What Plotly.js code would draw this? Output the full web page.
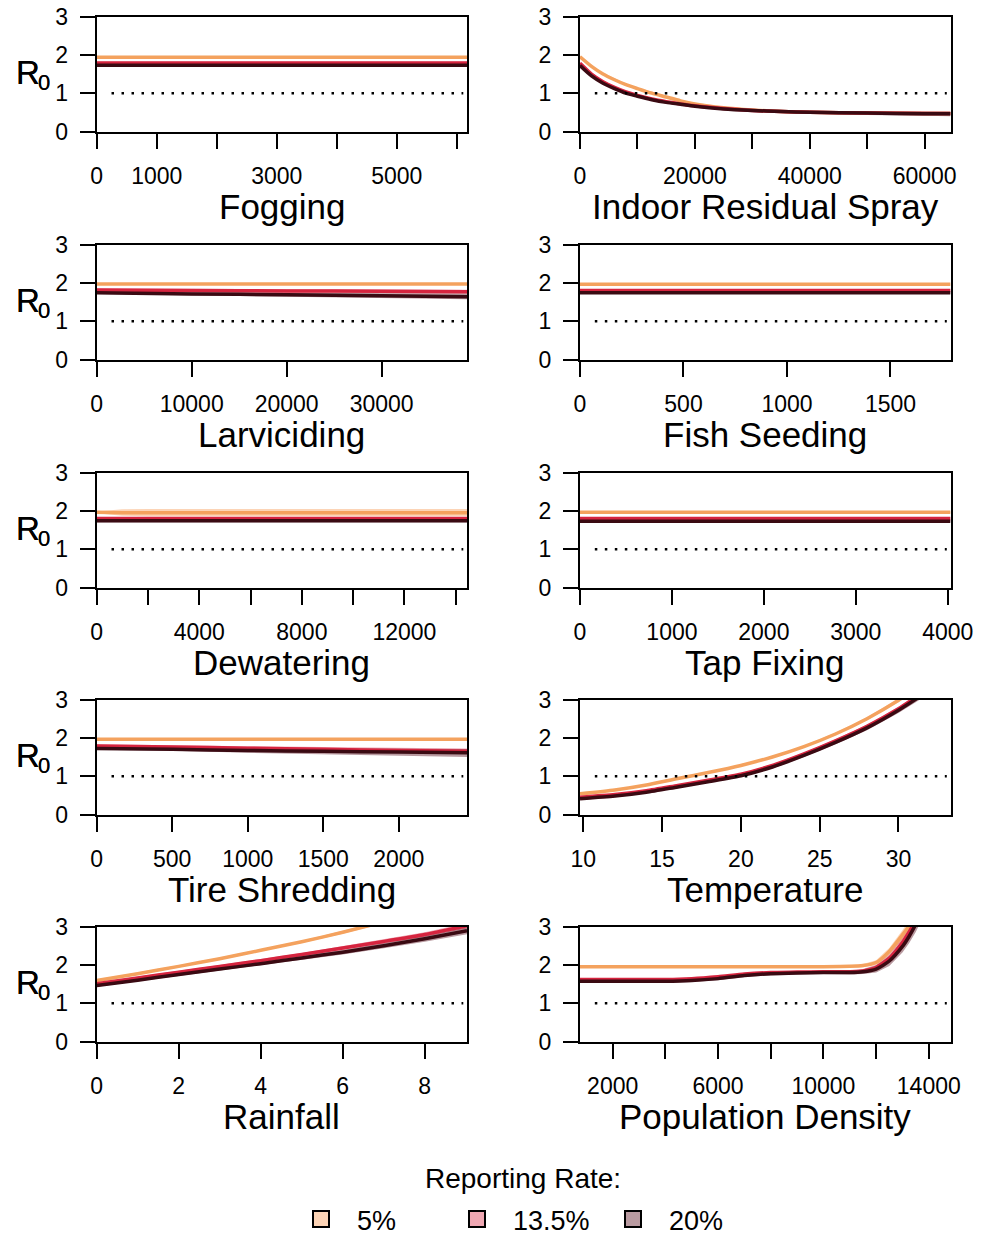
<!DOCTYPE html>
<html><head><meta charset="utf-8">
<script src="https://cdn.plot.ly/plotly-3.0.1.min.js"></script>
<style>html,body{margin:0;padding:0;background:#fff}#chart{width:988px;height:1237px}</style>
</head><body><div id="chart"></div>
<script>
// ---------- series / legend ----------
const seriesNames = ['5%', '13.5%', '20%'];
const legendTitle = 'Reporting Rate:';
const threshold = 1;
const yTickVals = [0, 1, 2, 3];

// ---------- Fogging ----------
const foggingX = [0, 1500, 3000, 4500, 6170];
const fogging5 = [1.94, 1.94, 1.94, 1.94, 1.94];
const fogging5Lo = [1.92, 1.92, 1.92, 1.92, 1.92];
const fogging5Hi = [1.96, 1.96, 1.96, 1.96, 1.96];
const fogging135 = [1.79, 1.79, 1.79, 1.79, 1.79];
const fogging135Lo = [1.76, 1.76, 1.76, 1.76, 1.76];
const fogging135Hi = [1.82, 1.82, 1.82, 1.82, 1.82];
const fogging20 = [1.73, 1.73, 1.73, 1.73, 1.73];
const fogging20Lo = [1.70, 1.70, 1.70, 1.70, 1.70];
const fogging20Hi = [1.76, 1.76, 1.76, 1.76, 1.76];
const foggingTicks = [0, 1000, 3000, 5000];
const foggingMinorTicks = [2000, 4000, 6000];

// ---------- Indoor Residual Spray ----------
const irsX = [0, 2000, 4000, 6000, 8000, 10000, 12500, 15000, 17500, 20000, 25000, 30000, 35000, 40000, 50000, 60000, 64500];
const irs5 = [1.95, 1.70, 1.50, 1.35, 1.22, 1.12, 1.00, 0.90, 0.80, 0.72, 0.62, 0.56, 0.52, 0.50, 0.48, 0.47, 0.47];
const irs5Lo = [1.92, 1.67, 1.47, 1.32, 1.19, 1.09, 0.97, 0.87, 0.77, 0.69, 0.59, 0.53, 0.49, 0.47, 0.45, 0.44, 0.44];
const irs5Hi = [1.98, 1.73, 1.53, 1.38, 1.25, 1.15, 1.03, 0.93, 0.83, 0.75, 0.65, 0.59, 0.55, 0.53, 0.51, 0.50, 0.50];
const irs135 = [1.78, 1.50, 1.30, 1.15, 1.03, 0.94, 0.85, 0.78, 0.72, 0.67, 0.60, 0.55, 0.52, 0.50, 0.48, 0.47, 0.47];
const irs135Lo = [1.75, 1.47, 1.27, 1.12, 1.00, 0.91, 0.82, 0.75, 0.69, 0.64, 0.57, 0.52, 0.49, 0.47, 0.44, 0.43, 0.43];
const irs135Hi = [1.81, 1.53, 1.33, 1.18, 1.06, 0.97, 0.88, 0.81, 0.75, 0.70, 0.63, 0.58, 0.55, 0.53, 0.52, 0.51, 0.51];
const irs20 = [1.72, 1.45, 1.26, 1.12, 1.00, 0.92, 0.83, 0.76, 0.71, 0.66, 0.59, 0.55, 0.52, 0.50, 0.48, 0.46, 0.46];
const irs20Lo = [1.69, 1.42, 1.23, 1.09, 0.97, 0.89, 0.80, 0.73, 0.68, 0.63, 0.56, 0.51, 0.48, 0.46, 0.43, 0.41, 0.40];
const irs20Hi = [1.75, 1.48, 1.29, 1.15, 1.03, 0.95, 0.86, 0.79, 0.74, 0.69, 0.62, 0.59, 0.56, 0.54, 0.53, 0.52, 0.52];
const irsTicks = [0, 20000, 40000, 60000];
const irsMinorTicks = [10000, 30000, 50000];

// ---------- Larviciding ----------
const larvX = [0, 10000, 20000, 30000, 38980];
const larv5 = [1.97, 1.97, 1.97, 1.97, 1.97];
const larv5Lo = [1.95, 1.95, 1.95, 1.95, 1.95];
const larv5Hi = [1.99, 1.99, 1.99, 1.99, 1.99];
const larv135 = [1.81, 1.80, 1.79, 1.78, 1.77];
const larv135Lo = [1.77, 1.76, 1.74, 1.73, 1.72];
const larv135Hi = [1.85, 1.84, 1.84, 1.83, 1.82];
const larv20 = [1.74, 1.71, 1.69, 1.66, 1.64];
const larv20Lo = [1.71, 1.67, 1.63, 1.59, 1.57];
const larv20Hi = [1.77, 1.75, 1.74, 1.73, 1.72];
const larvTicks = [0, 10000, 20000, 30000];
const larvMinorTicks = [];

// ---------- Fish Seeding ----------
const fishX = [0, 500, 1000, 1500, 1790];
const fish5 = [1.96, 1.96, 1.96, 1.96, 1.96];
const fish5Lo = [1.94, 1.94, 1.94, 1.94, 1.94];
const fish5Hi = [1.98, 1.98, 1.98, 1.98, 1.98];
const fish135 = [1.80, 1.80, 1.80, 1.80, 1.80];
const fish135Lo = [1.76, 1.76, 1.76, 1.76, 1.76];
const fish135Hi = [1.84, 1.84, 1.84, 1.84, 1.84];
const fish20 = [1.74, 1.74, 1.74, 1.74, 1.74];
const fish20Lo = [1.71, 1.71, 1.71, 1.71, 1.71];
const fish20Hi = [1.77, 1.77, 1.77, 1.77, 1.77];
const fishTicks = [0, 500, 1000, 1500];
const fishMinorTicks = [];

// ---------- Dewatering ----------
const dewX = [0, 1000, 2000, 4000, 8000, 12000, 14440];
const dew5 = [1.96, 1.95, 1.95, 1.95, 1.95, 1.95, 1.95];
const dew5Lo = [1.94, 1.87, 1.86, 1.86, 1.86, 1.86, 1.86];
const dew5Hi = [1.98, 2.04, 2.05, 2.05, 2.05, 2.05, 2.05];
const dew135 = [1.80, 1.80, 1.80, 1.80, 1.80, 1.80, 1.80];
const dew135Lo = [1.76, 1.76, 1.76, 1.76, 1.76, 1.76, 1.76];
const dew135Hi = [1.84, 1.84, 1.84, 1.84, 1.84, 1.84, 1.84];
const dew20 = [1.74, 1.74, 1.74, 1.74, 1.74, 1.74, 1.74];
const dew20Lo = [1.70, 1.70, 1.70, 1.70, 1.70, 1.70, 1.70];
const dew20Hi = [1.78, 1.78, 1.78, 1.78, 1.78, 1.78, 1.78];
const dewTicks = [0, 4000, 8000, 12000];
const dewMinorTicks = [2000, 6000, 10000, 14000];

// ---------- Tap Fixing ----------
const tapX = [0, 1000, 2000, 3000, 4030];
const tap5 = [1.96, 1.96, 1.96, 1.96, 1.96];
const tap5Lo = [1.94, 1.94, 1.94, 1.94, 1.94];
const tap5Hi = [1.98, 1.98, 1.98, 1.98, 1.98];
const tap135 = [1.80, 1.80, 1.80, 1.80, 1.80];
const tap135Lo = [1.76, 1.76, 1.76, 1.76, 1.76];
const tap135Hi = [1.84, 1.84, 1.84, 1.84, 1.84];
const tap20 = [1.73, 1.73, 1.73, 1.73, 1.73];
const tap20Lo = [1.70, 1.70, 1.70, 1.70, 1.70];
const tap20Hi = [1.76, 1.76, 1.76, 1.76, 1.76];
const tapTicks = [0, 1000, 2000, 3000, 4000];
const tapMinorTicks = [];

// ---------- Tire Shredding ----------
const tireX = [0, 500, 1000, 1500, 2000, 2452];
const tire5 = [1.96, 1.96, 1.96, 1.96, 1.96, 1.96];
const tire5Lo = [1.94, 1.94, 1.94, 1.94, 1.94, 1.94];
const tire5Hi = [1.98, 1.98, 1.98, 1.98, 1.98, 1.98];
const tire135 = [1.79, 1.76, 1.73, 1.70, 1.67, 1.65];
const tire135Lo = [1.75, 1.72, 1.68, 1.64, 1.61, 1.58];
const tire135Hi = [1.83, 1.80, 1.78, 1.76, 1.73, 1.72];
const tire20 = [1.72, 1.70, 1.67, 1.65, 1.63, 1.61];
const tire20Lo = [1.69, 1.66, 1.61, 1.57, 1.53, 1.50];
const tire20Hi = [1.75, 1.74, 1.72, 1.71, 1.71, 1.71];
const tireTicks = [0, 500, 1000, 1500, 2000];
const tireMinorTicks = [];

// ---------- Temperature ----------
const tempX = [9.79, 12, 14, 16, 18, 20, 22, 24, 26, 28, 30, 32];
const temp5 = [0.54, 0.64, 0.77, 0.94, 1.10, 1.28, 1.50, 1.77, 2.10, 2.50, 2.98, 3.55];
const temp5Lo = [0.52, 0.62, 0.75, 0.92, 1.08, 1.26, 1.48, 1.74, 2.07, 2.46, 2.93, 3.48];
const temp5Hi = [0.56, 0.66, 0.79, 0.96, 1.12, 1.30, 1.52, 1.80, 2.13, 2.54, 3.03, 3.62];
const temp135 = [0.45, 0.52, 0.62, 0.76, 0.90, 1.05, 1.28, 1.58, 1.92, 2.30, 2.76, 3.30];
const temp135Lo = [0.43, 0.50, 0.60, 0.74, 0.88, 1.03, 1.25, 1.55, 1.88, 2.26, 2.71, 3.23];
const temp135Hi = [0.47, 0.54, 0.64, 0.78, 0.92, 1.07, 1.31, 1.61, 1.96, 2.34, 2.81, 3.37];
const temp20 = [0.41, 0.48, 0.58, 0.72, 0.86, 1.01, 1.24, 1.54, 1.88, 2.26, 2.72, 3.25];
const temp20Lo = [0.38, 0.45, 0.55, 0.69, 0.83, 0.98, 1.20, 1.50, 1.83, 2.20, 2.65, 3.16];
const temp20Hi = [0.44, 0.51, 0.61, 0.75, 0.89, 1.04, 1.28, 1.58, 1.93, 2.32, 2.79, 3.34];
const tempTicks = [10, 15, 20, 25, 30];
const tempMinorTicks = [];

// ---------- Rainfall ----------
const rainX = [0, 1, 2, 3, 4, 5, 6, 7, 8, 9.03];
const rain5 = [1.59, 1.77, 1.96, 2.16, 2.38, 2.60, 2.85, 3.12, 3.40, 3.70];
const rain5Lo = [1.56, 1.74, 1.93, 2.13, 2.35, 2.57, 2.81, 3.08, 3.35, 3.64];
const rain5Hi = [1.62, 1.80, 1.99, 2.19, 2.41, 2.63, 2.89, 3.16, 3.45, 3.76];
const rain135 = [1.51, 1.66, 1.81, 1.96, 2.11, 2.27, 2.44, 2.61, 2.79, 3.02];
const rain135Lo = [1.48, 1.63, 1.78, 1.93, 2.07, 2.23, 2.39, 2.56, 2.73, 2.95];
const rain135Hi = [1.54, 1.69, 1.84, 1.99, 2.15, 2.31, 2.49, 2.66, 2.85, 3.09];
const rain20 = [1.46, 1.60, 1.75, 1.89, 2.03, 2.18, 2.33, 2.50, 2.68, 2.89];
const rain20Lo = [1.43, 1.57, 1.71, 1.85, 1.98, 2.12, 2.27, 2.43, 2.60, 2.80];
const rain20Hi = [1.49, 1.63, 1.79, 1.93, 2.08, 2.24, 2.39, 2.57, 2.76, 2.98];
const rainTicks = [0, 2, 4, 6, 8];
const rainMinorTicks = [];

// ---------- Population Density ----------
const popX = [759, 2000, 4000, 5000, 6000, 7000, 8000, 9000, 10000, 11000, 11500, 12000, 12500, 13000, 13250, 13500, 13750, 14000];
const pop5 = [1.95, 1.95, 1.95, 1.95, 1.95, 1.95, 1.95, 1.95, 1.95, 1.96, 1.98, 2.06, 2.35, 2.78, 3.02, 3.40, 3.80, 4.20];
const pop5Lo = [1.93, 1.93, 1.93, 1.93, 1.93, 1.93, 1.93, 1.93, 1.93, 1.93, 1.94, 2.00, 2.26, 2.66, 2.88, 3.24, 3.62, 4.00];
const pop5Hi = [1.97, 1.97, 1.97, 1.97, 1.97, 1.97, 1.97, 1.97, 1.97, 1.99, 2.02, 2.12, 2.44, 2.90, 3.16, 3.56, 3.98, 4.40];
const pop135 = [1.62, 1.62, 1.62, 1.64, 1.69, 1.76, 1.80, 1.81, 1.82, 1.82, 1.84, 1.93, 2.17, 2.58, 2.85, 3.15, 3.50, 3.90];
const pop135Lo = [1.59, 1.59, 1.59, 1.61, 1.66, 1.73, 1.77, 1.78, 1.79, 1.78, 1.79, 1.86, 2.07, 2.45, 2.70, 2.98, 3.30, 3.68];
const pop135Hi = [1.65, 1.65, 1.65, 1.67, 1.72, 1.79, 1.83, 1.84, 1.85, 1.86, 1.89, 2.00, 2.27, 2.71, 3.00, 3.32, 3.70, 4.12];
const pop20 = [1.57, 1.57, 1.57, 1.59, 1.64, 1.72, 1.77, 1.79, 1.80, 1.80, 1.82, 1.89, 2.10, 2.48, 2.74, 3.05, 3.40, 3.80];
const pop20Lo = [1.53, 1.53, 1.53, 1.55, 1.60, 1.68, 1.73, 1.75, 1.76, 1.75, 1.76, 1.80, 1.97, 2.32, 2.56, 2.85, 3.17, 3.54];
const pop20Hi = [1.61, 1.61, 1.61, 1.63, 1.68, 1.76, 1.81, 1.83, 1.84, 1.85, 1.88, 1.98, 2.23, 2.64, 2.92, 3.25, 3.63, 4.06];
const popTicks = [2000, 6000, 10000, 14000];
const popMinorTicks = [4000, 8000, 12000];

// ---------- panel table (built from the arrays above) ----------
const panels = [
  {title: 'Fogging', x: foggingX, mean: [fogging5, fogging135, fogging20], lo: [fogging5Lo, fogging135Lo, fogging20Lo], hi: [fogging5Hi, fogging135Hi, fogging20Hi], range: [0, 6170], tv: foggingTicks, mv: foggingMinorTicks},
  {title: 'Indoor Residual Spray', x: irsX, mean: [irs5, irs135, irs20], lo: [irs5Lo, irs135Lo, irs20Lo], hi: [irs5Hi, irs135Hi, irs20Hi], range: [0, 64500], tv: irsTicks, mv: irsMinorTicks},
  {title: 'Larviciding', x: larvX, mean: [larv5, larv135, larv20], lo: [larv5Lo, larv135Lo, larv20Lo], hi: [larv5Hi, larv135Hi, larv20Hi], range: [0, 38980], tv: larvTicks, mv: larvMinorTicks},
  {title: 'Fish Seeding', x: fishX, mean: [fish5, fish135, fish20], lo: [fish5Lo, fish135Lo, fish20Lo], hi: [fish5Hi, fish135Hi, fish20Hi], range: [0, 1790], tv: fishTicks, mv: fishMinorTicks},
  {title: 'Dewatering', x: dewX, mean: [dew5, dew135, dew20], lo: [dew5Lo, dew135Lo, dew20Lo], hi: [dew5Hi, dew135Hi, dew20Hi], range: [0, 14440], tv: dewTicks, mv: dewMinorTicks},
  {title: 'Tap Fixing', x: tapX, mean: [tap5, tap135, tap20], lo: [tap5Lo, tap135Lo, tap20Lo], hi: [tap5Hi, tap135Hi, tap20Hi], range: [0, 4030], tv: tapTicks, mv: tapMinorTicks},
  {title: 'Tire Shredding', x: tireX, mean: [tire5, tire135, tire20], lo: [tire5Lo, tire135Lo, tire20Lo], hi: [tire5Hi, tire135Hi, tire20Hi], range: [0, 2452], tv: tireTicks, mv: tireMinorTicks},
  {title: 'Temperature', x: tempX, mean: [temp5, temp135, temp20], lo: [temp5Lo, temp135Lo, temp20Lo], hi: [temp5Hi, temp135Hi, temp20Hi], range: [9.79, 33.3], tv: tempTicks, mv: tempMinorTicks},
  {title: 'Rainfall', x: rainX, mean: [rain5, rain135, rain20], lo: [rain5Lo, rain135Lo, rain20Lo], hi: [rain5Hi, rain135Hi, rain20Hi], range: [0, 9.03], tv: rainTicks, mv: rainMinorTicks},
  {title: 'Population Density', x: popX, mean: [pop5, pop135, pop20], lo: [pop5Lo, pop135Lo, pop20Lo], hi: [pop5Hi, pop135Hi, pop20Hi], range: [759, 14824], tv: popTicks, mv: popMinorTicks}
];

// ---------- styles ----------
const FONT = 'Liberation Sans, Arial, Helvetica, sans-serif';
const lineColors = ['#F4A25E', '#D6243F', '#3A0A12'];
const bandColors = ['rgba(250,170,110,0.5)', 'rgba(214,36,64,0.4)', 'rgba(100,30,45,0.45)'];
const legendColors = ['#FDD4B6', '#EFA7B2', '#B99AA0'];

const W = 988, H = 1237;
const colPx = [[96.7, 467], [580, 950.5]];
const rowTopPx = [16.5, 244.5, 472.5, 699.5, 926.5];
const rowHPx = 115;
const titleDropPx = 75;

const data = [];
const layout = {
  width: W, height: H,
  margin: {l: 0, r: 0, t: 0, b: 0, autoexpand: false},
  paper_bgcolor: '#fff', plot_bgcolor: '#fff',
  font: {family: FONT, color: '#000'},
  showlegend: true,
  shapes: [],
  annotations: [{xref: 'paper', yref: 'paper', x: 523 / W, xanchor: 'center',
    y: 1 - 1178 / H, yanchor: 'middle', text: legendTitle, showarrow: false,
    font: {size: 28, family: FONT, color: '#000'}}],
  legend: {
    orientation: 'h', x: 285 / W, xanchor: 'left', y: 1 - 1195 / H, yanchor: 'top',
    font: {size: 27, family: FONT, color: '#000'},
    itemwidth: 62, entrywidth: 79, entrywidthmode: 'pixels', traceorder: 'normal',
    bgcolor: 'rgba(0,0,0,0)', borderwidth: 0, itemclick: false, itemdoubleclick: false
  }
};

panels.forEach((p, i) => {
  const n = i + 1;
  const sfx = n === 1 ? '' : String(n);
  const xr = 'x' + sfx, yr = 'y' + sfx;
  const col = i % 2, row = Math.floor(i / 2);
  const top = rowTopPx[row], bot = top + rowHPx;

  const xa = {
    domain: [colPx[col][0] / W, colPx[col][1] / W], anchor: yr,
    range: p.range, tickmode: 'array', tickvals: p.tv, ticktext: p.tv.map(String),
    ticks: 'outside', ticklen: 15, tickwidth: 2, tickcolor: '#000',
    showline: true, linewidth: 2, linecolor: '#000', mirror: true,
    showgrid: false, zeroline: false, fixedrange: true,
    tickfont: {size: 23, family: FONT, color: '#000'}, ticklabelstandoff: 8
  };
  if (p.mv.length) {
    xa.minor = {tickmode: 'array', tickvals: p.mv, ticks: 'outside', ticklen: 15,
      tickwidth: 2, tickcolor: '#000', showgrid: false};
  }
  layout['xaxis' + sfx] = xa;
  layout['yaxis' + sfx] = {
    domain: [1 - bot / H, 1 - top / H], anchor: xr,
    range: [0, 3], tickmode: 'array', tickvals: yTickVals,
    ticks: 'outside', ticklen: 15, tickwidth: 2, tickcolor: '#000',
    showline: true, linewidth: 2, linecolor: '#000', mirror: true,
    showgrid: false, zeroline: false, fixedrange: true,
    tickfont: {size: 23, family: FONT, color: '#000'}, ticklabelstandoff: 7
  };

  // bands
  for (let s = 0; s < 3; s++) {
    data.push({type: 'scatter', mode: 'lines', x: p.x, y: p.lo[s], xaxis: xr, yaxis: yr,
      line: {width: 0, color: bandColors[s]}, showlegend: false, hoverinfo: 'skip'});
    data.push({type: 'scatter', mode: 'lines', x: p.x, y: p.hi[s], xaxis: xr, yaxis: yr,
      fill: 'tonexty', fillcolor: bandColors[s],
      line: {width: 0, color: bandColors[s]}, showlegend: false, hoverinfo: 'skip'});
  }
  // mean lines
  for (let s = 0; s < 3; s++) {
    data.push({type: 'scatter', mode: 'lines', x: p.x, y: p.mean[s], xaxis: xr, yaxis: yr,
      line: {width: 3.5, color: lineColors[s], shape: 'spline', smoothing: 0.6},
      name: seriesNames[s], showlegend: false, hoverinfo: 'skip'});
  }

  // threshold line
  layout.shapes.push({type: 'line', xref: xr + ' domain', yref: yr, x0: 0.04, x1: 0.99,
    y0: threshold, y1: threshold, line: {color: '#000', width: 2.5, dash: '2.5px,7.5px'}});

  // x-axis title
  layout.annotations.push({xref: xr + ' domain', yref: yr + ' domain', x: 0.5, xanchor: 'center',
    y: -titleDropPx / rowHPx, yanchor: 'middle', text: p.title, showarrow: false,
    font: {size: 35, family: FONT, color: '#000'}});

  // R0 label: "R" with a lowered, smaller "0"
  layout.annotations.push({xref: 'paper', yref: yr + ' domain', x: 27.5 / W, xanchor: 'center',
    y: 0.51, yanchor: 'middle', text: 'R', showarrow: false,
    font: {size: 33, family: FONT, color: '#000'}});
  layout.annotations.push({xref: 'paper', yref: yr + ' domain', x: 44 / W, xanchor: 'center',
    y: 0.425, yanchor: 'middle', text: '0', showarrow: false,
    font: {size: 22, family: FONT, color: '#000'}});
});

// legend entries
for (let s = 0; s < 3; s++) {
  data.push({type: 'scatter', mode: 'markers', x: [null], y: [null], xaxis: 'x', yaxis: 'y',
    name: seriesNames[s], showlegend: true, hoverinfo: 'skip',
    marker: {symbol: 'square', size: 16, color: legendColors[s], line: {color: '#000', width: 2}}});
}

Plotly.newPlot('chart', data, layout, {staticPlot: true, displayModeBar: false});
</script>
</body></html>
